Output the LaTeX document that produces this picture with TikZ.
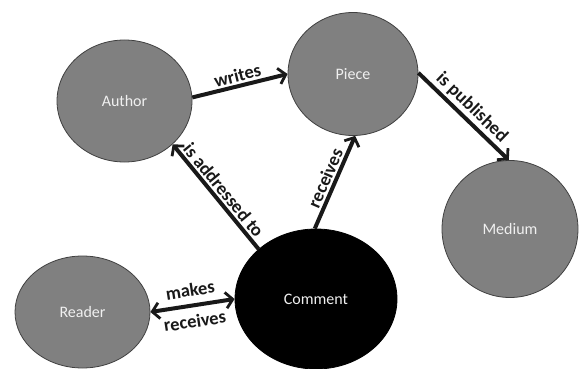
\documentclass[tikz,border=0pt]{standalone}
\usepackage{fontspec}
\setmainfont{Carlito}
\usetikzlibrary{shapes.geometric,arrows.meta}

\tikzset{
  entity/.style={ellipse,draw=black!75,line width=0.8pt,fill=black!50,text=black!6,
    font=\fontsize{16}{19}\selectfont,inner sep=0pt},
  barb/.tip={Straight Barb[length=7pt,width=16pt,line width=2.8pt]},
  relation/.style={line width=4pt,black!90,-barb},
  verb/.style={font=\bfseries\fontsize{18.5}{22}\selectfont,sloped,black!90,inner sep=2pt}
}

\begin{document}
\begin{tikzpicture}[x=1pt,y=-1pt]
    \useasboundingbox (0,0) rectangle (579,369);

    \node[entity,minimum width=135pt,minimum height=122pt] (author) at (124.5,101) {Author};
    \node[entity,minimum width=130pt,minimum height=123pt] (piece) at (353,74) {Piece};
    \node[entity,minimum width=136pt,minimum height=137pt] (medium) at (510,229) {Medium};
    \node[entity,minimum width=135pt,minimum height=112pt] (reader) at (82.5,312) {Reader};
    \node[entity,fill=black,draw=black,minimum width=162pt,minimum height=140pt] (comment) at (316,299) {Comment};

    \draw[relation] (author.3) -- node[verb,above] {writes} (piece.180);
    \draw[relation] (piece.1) -- node[verb,above] {is published} (medium.91);
    \draw[relation] (comment.139) -- node[verb,above] {is addressed to} (author.-42);
    \draw[relation] (comment.91) -- node[verb,above] {receives} (piece.-88);
    \draw[relation,barb-barb] (reader.0)
      -- node[verb,above,inner sep=7pt] {makes} node[verb,below,inner sep=7pt] {receives} (comment.180);
  \end{tikzpicture}
\end{document}
